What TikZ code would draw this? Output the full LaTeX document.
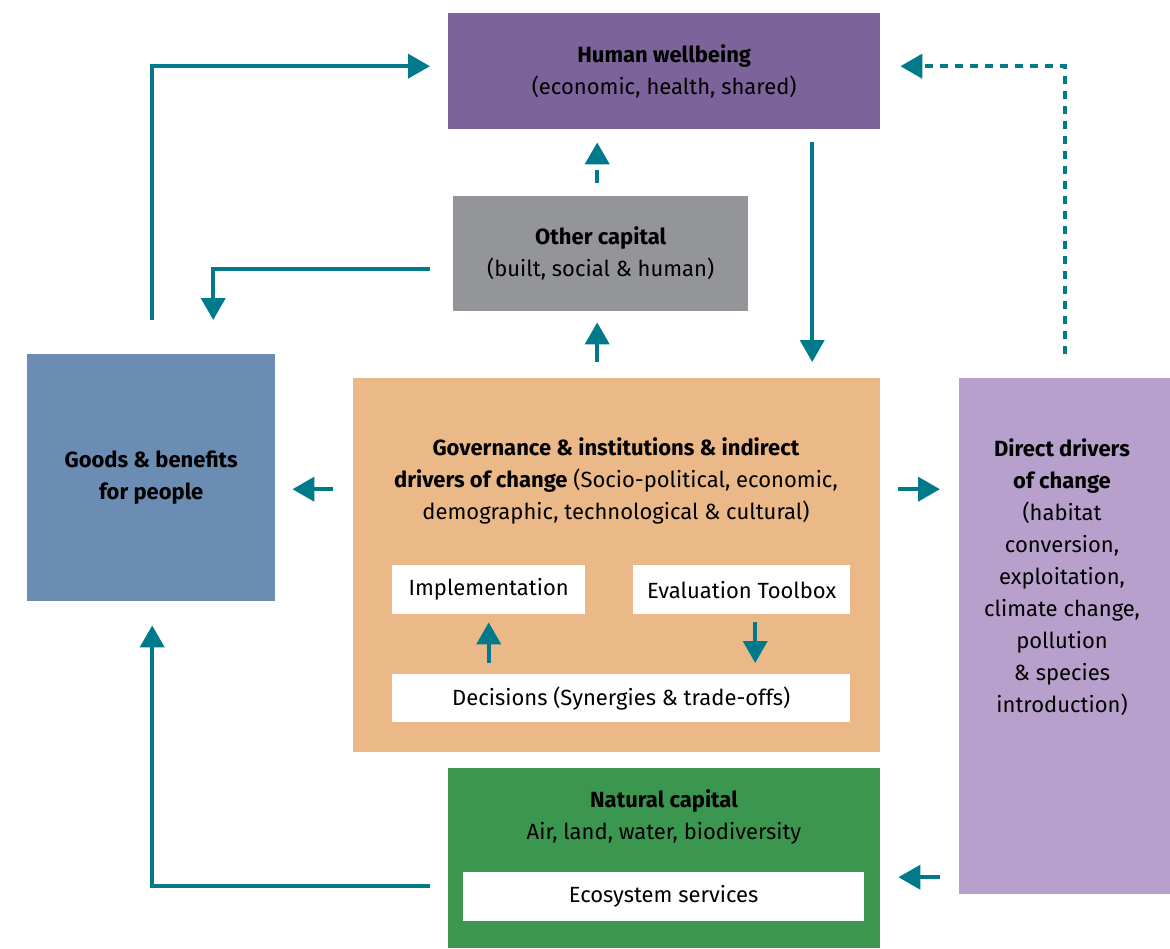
\documentclass[tikz,border=0pt]{standalone}
\usepackage{fontspec}
\setmainfont{Fira Sans}
\usetikzlibrary{arrows.meta,calc}
\definecolor{hwc}{HTML}{7C6399}
\definecolor{occ}{HTML}{939598}
\definecolor{gbc}{HTML}{6C8DB3}
\definecolor{govc}{HTML}{EBB887}
\definecolor{ddc}{HTML}{B8A0CC}
\definecolor{ncc}{HTML}{3B9650}
\definecolor{tealc}{HTML}{00798A}
\begin{document}
\begin{tikzpicture}[x=1pt,y=-1pt,
  box/.style={draw=none, inner sep=0pt, anchor=north west, align=center, text=black,
    font=\fontsize{22}{32}\selectfont},
  whitebox/.style={box, fill=white},
  lbl/.style={align=center, inner sep=0pt, font=\fontsize{22}{32}\selectfont},
  arr/.style={draw=tealc, line width=4pt, -{Triangle[length=22pt,width=24pt]}},
  dotarr/.style={arr, line width=4.5pt, dash pattern=on 8pt off 7pt},
  dasharr/.style={arr, dash pattern=on 13pt off 10pt}]
\useasboundingbox (0,0) rectangle (1170,948);

\node[box, fill=hwc, minimum width=432pt, minimum height=116pt] (hw) at (448,13)
  {\textbf{Human wellbeing}\\(economic, health, shared)};
\node[box, fill=occ, minimum width=295pt, minimum height=115pt] (other) at (453,196)
  {\textbf{Other capital}\\(built, social \& human)};
\node[box, fill=gbc, minimum width=248pt, minimum height=247pt] (goods) at (27,354)
  {\textbf{Goods \& benefits}\\\textbf{for people}};
\node[box, fill=govc, minimum width=527pt, minimum height=374pt] (gov) at (353,378) {};
\node[lbl] (govtext) at (616,481)
  {\textbf{Governance \& institutions \& indirect}\\\textbf{drivers of change} (Socio-political, economic,\\demographic, technological \& cultural)};
\node[whitebox, minimum width=193pt, minimum height=49pt] (impl) at (392,565) {Implementation};
\node[whitebox, minimum width=217pt, minimum height=49pt] (eval) at (633,565) {Evaluation Toolbox};
\node[whitebox, minimum width=458pt, minimum height=48pt] (dec) at (392,674) {Decisions (Synergies \& trade-offs)};
\node[box, fill=ddc, minimum width=211pt, minimum height=516pt] (dd) at (959,378) {};
\node[lbl] (ddtext) at (1062,577)
  {\textbf{Direct drivers}\\\textbf{of change}\\(habitat\\conversion,\\exploitation,\\climate change,\\pollution\\\& species\\introduction)};
\node[box, fill=ncc, minimum width=432pt, minimum height=180pt] (nat) at (448,768) {};
\node[lbl] (nattext) at (664,816.5) {\textbf{Natural capital}\\Air, land, water, biodiversity};
\node[whitebox, minimum width=401pt, minimum height=49pt] (eco) at (463,872) {Ecosystem services};

% connectors
\draw[arr] ($(goods.north)+(1,-34)$) |- ($(hw.west)+(-18,-5)$);
\draw[dotarr] ($(dd.north)+(0.5,-24)$) |- ($(hw.east)+(20,-5)$);
\draw[dasharr] ($(other.north)+(-3.5,-13)$) -- ($(hw.south -| other.north)+(-3.5,13)$);
\draw[arr] ($(other.west)+(-23,15.5)$) -| ($(goods.north)+(62,-34)$);
\draw[arr] ($(gov.north -| other.north)+(-3.5,-16)$) -- ($(other.south)+(-3.5,11)$);
\draw[arr] ($(hw.south)+(148,13)$) -- ($(gov.north -| hw.south)+(148,-16)$);
\draw[arr] ($(gov.west)+(-20,-76)$) -- ($(goods.east |- gov.west)+(17,-76)$);
\draw[arr] ($(gov.east)+(18,-76)$) -- ($(dd.west |- gov.east)+(-19,-76)$);
\draw[arr] ($(impl.south |- dec.north)+(0,-11)$) -- ($(impl.south)+(0,8)$);
\draw[arr] ($(eval.south)+(13.5,8)$) -- ($(eval.south |- dec.north)+(13.5,-11)$);
\draw[arr] ($(nat.west)+(-18,28)$) -| ($(goods.south)+(1,24)$);
\draw[arr] ($(dd.west |- nat.west)+(-19,19)$) -- ($(nat.east)+(18,19)$);
\end{tikzpicture}
\end{document}
